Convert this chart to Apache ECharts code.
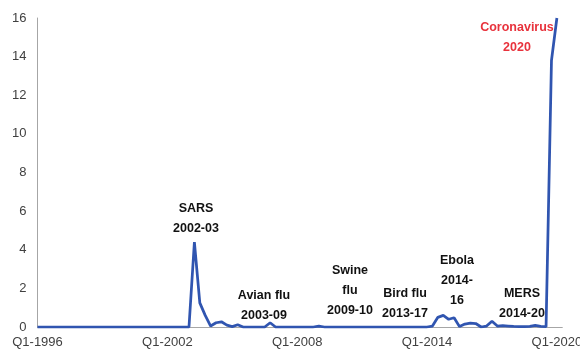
<!DOCTYPE html>
<html>
<head>
<meta charset="utf-8">
<script src="https://cdn.jsdelivr.net/npm/echarts@6/dist/echarts.min.js"></script>
<style>
html,body{margin:0;padding:0;background:#fff;}
#c{width:580px;height:353px;}
</style>
</head>
<body>
<div id="c"></div>
<script>
// Quarterly categories Q1-1996 .. Q2-2020
var startYear = 1996;
var quarterCount = 98;
var categories = [];
for (var k = 0; k < quarterCount; k++) {
  categories.push('Q' + (k % 4 + 1) + '-' + (startYear + Math.floor(k / 4)));
}

// Index values
var values = [
  0,0,0,0,0,0,0,0,0,0,        // 1996-1998
  0,0,0,0,0,0,0,0,0,0,        // 1998-2000
  0,0,0,0,0,0,0,0,0,          // 2001-2003 Q1
  4.4,1.25,0.6,0.05,0.22,0.27,0.1,0.02,0.12,0, // 2003 Q2 - 2005 Q3
  0,0,0,0,0.22,0,0,0,0,0,     // 2005 Q4 - 2008 Q1
  0,0,0,0.05,0,0,0,0,0,0,     // 2008 Q2 - 2010 Q3
  0,0,0,0,0,0,0,0,0,0,        // 2010 Q4 - 2013 Q1
  0,0,0,0,0.05,0.5,0.6,0.4,0.48,0.02, // 2013 Q2 - 2015 Q3
  0.15,0.2,0.18,0,0.05,0.3,0.05,0.07,0.05,0.03, // 2015 Q4 - 2018 Q1
  0.02,0.02,0.03,0.08,0.03,0.02,13.8,16  // 2018 Q2 - 2020 Q2
];

var yTicks = [0, 16, 2]; // min, max, interval

var annotations = [
  { lines: ['SARS', '2002-03'], color: '#111' },
  { lines: ['Avian flu', '2003-09'], color: '#111' },
  { lines: ['Swine', 'flu', '2009-10'], color: '#111' },
  { lines: ['Bird flu', '2013-17'], color: '#111' },
  { lines: ['Ebola', '2014-', '16'], color: '#111' },
  { lines: ['MERS', '2014-20'], color: '#111' },
  { lines: ['Coronavirus', '2020'], color: '#E8323C' }
];
// positions (x center, first line y) of the annotation blocks
var annPos = [[196, 209], [264, 296], [350, 271], [405, 294], [457, 261], [522, 294], [517, 28]];

var chart = echarts.init(document.getElementById('c'));
var graphics = [];
annotations.forEach(function (a, i) {
  a.lines.forEach(function (t, j) {
    graphics.push({
      type: 'text',
      x: annPos[i][0],
      y: annPos[i][1] + j * 20,
      style: {
        text: t,
        fill: a.color,
        font: 'bold 12.5px "Liberation Sans", Arial, sans-serif',
        textAlign: 'center',
        textVerticalAlign: 'middle'
      },
      z: 10
    });
  });
});

chart.setOption({
  animation: false,
  grid: { left: 37.5, right: 17.7, top: 18, bottom: 26, containLabel: false, outerBoundsMode: 'none' },
  xAxis: {
    type: 'category',
    data: categories,
    boundaryGap: false,
    axisLine: { show: true, lineStyle: { color: '#A6A6A6', width: 1 } },
    axisTick: { show: false },
    axisLabel: {
      interval: 23,
      color: '#404040',
      fontSize: 13,
      fontFamily: '"Liberation Sans", Arial, sans-serif',
      margin: 9
    },
    splitLine: { show: false }
  },
  yAxis: {
    type: 'value',
    min: yTicks[0],
    max: yTicks[1],
    interval: yTicks[2],
    axisLine: { show: true, lineStyle: { color: '#A6A6A6', width: 1 } },
    axisTick: { show: false },
    axisLabel: {
      color: '#404040',
      fontSize: 13,
      fontFamily: '"Liberation Sans", Arial, sans-serif',
      margin: 11
    },
    splitLine: { show: false }
  },
  series: [{
    type: 'line',
    data: values,
    symbol: 'none',
    lineStyle: { color: '#3055B0', width: 2.75 },
    z: 5
  }],
  graphic: graphics
});
</script>
</body>
</html>
